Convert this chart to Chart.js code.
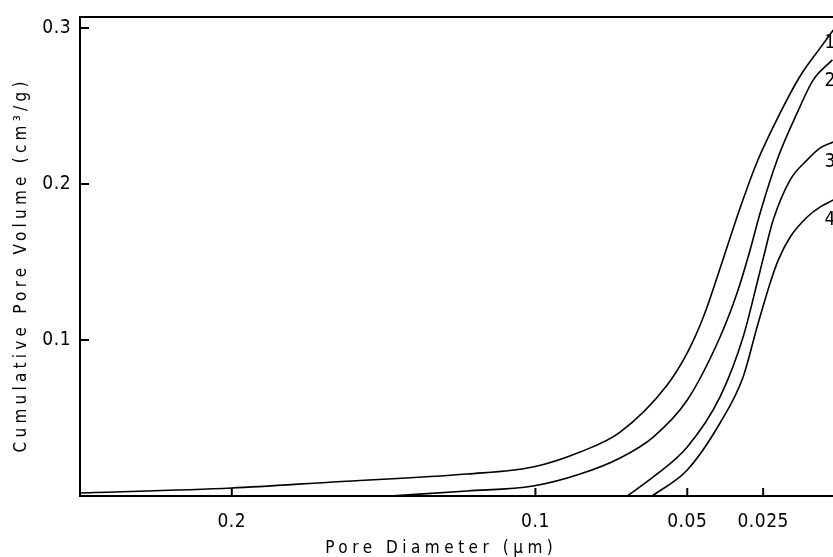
<!DOCTYPE html>
<html>
<head>
<meta charset="utf-8">
<script src="https://cdn.jsdelivr.net/npm/chart.js@4.4.1/dist/chart.umd.min.js"></script>
<style>
  html, body { margin: 0; padding: 0; background: #fff; }
  #wrap { width: 833px; height: 557px; }
</style>
</head>
<body>
<div id="wrap"><canvas id="grporos"></canvas></div>
<script>
// pore diameter (um) / cumulative volume (cm3/g)
const diam1 = [0.2501, 0.2, 0.1667, 0.1225, 0.1008, 0.0853, 0.0721, 0.0566, 0.0500, 0.0447, 0.0385, 0.0326, 0.0270, 0.0194, 0.0128, 0.0062, 0.0019];
const vol1  = [0.0019, 0.0051, 0.0090, 0.0141, 0.0186, 0.0282, 0.0410, 0.0712, 0.0917, 0.1147, 0.1500, 0.1846, 0.2141, 0.2455, 0.2692, 0.2872, 0.2987];

const diam2 = [0.1479, 0.1225, 0.1008, 0.0853, 0.0721, 0.0612, 0.0500, 0.0392, 0.0336, 0.0293, 0.0260, 0.0204, 0.0138, 0.0085, 0.0022];
const vol2  = [0, 0.0032, 0.0064, 0.0141, 0.0244, 0.0378, 0.0615, 0.1019, 0.1301, 0.1577, 0.1814, 0.2154, 0.2455, 0.2667, 0.2795];

const diam3 = [0.0698, 0.0612, 0.0500, 0.0392, 0.0316, 0.0270, 0.0243, 0.0217, 0.0161, 0.0105, 0.0062, 0.0019];
const vol3  = [0, 0.0122, 0.0314, 0.0635, 0.1019, 0.1365, 0.1577, 0.1769, 0.2026, 0.2154, 0.2231, 0.2269];

const diam4 = [0.0616, 0.0500, 0.0392, 0.0316, 0.0270, 0.0227, 0.0200, 0.0161, 0.0105, 0.0062, 0.0019];
const vol4  = [0, 0.0167, 0.0468, 0.0763, 0.1083, 0.1365, 0.1513, 0.1660, 0.1788, 0.1853, 0.1897];

const curveNames = ['1', '2', '3', '4'];
const labelDiam = [0.0048, 0.0048, 0.0048, 0.0048];
const labelVol  = [0.290, 0.266, 0.214, 0.177];

const xTicks = [0.2, 0.1, 0.05, 0.025];
const xTickLabels = ['0.2', '0.1', '0.05', '0.025'];
const yTicks = [0.1, 0.2, 0.3];
const yTickLabels = ['0.1', '0.2', '0.3'];

const xTitle = 'Pore Diameter (μm)';
const yTitle = 'Cumulative Pore Volume (cm³/g)';

const fuente = "'DejaVu Sans Condensed', 'Liberation Sans Narrow', 'DejaVu Sans', sans-serif";

function puntos(xs, ys) {
    return xs.map((x, i) => ({ x: x, y: ys[i] }));
}

const series = [[diam1, vol1], [diam2, vol2], [diam3, vol3], [diam4, vol4]];

// spaced-out axis title, stretched to a given width
function tituloEspaciado(ctx, texto, ancho) {
    ctx.letterSpacing = '0px';
    const w = ctx.measureText(texto).width;
    const esp = (ancho - w) / texto.length;
    ctx.letterSpacing = esp + 'px';
    ctx.fillText(texto, esp / 2, 0);
}

// inward ticks, top frame, axis titles and curve numbers
const extras = {
    id: 'extras',
    beforeDraw(chart) {
        chart.ctx.letterSpacing = '0.5px';
    },
    afterDraw(chart) {
        const ctx = chart.ctx;
        const area = chart.chartArea;
        const sx = chart.scales.x;
        const sy = chart.scales.y;
        ctx.save();
        ctx.strokeStyle = '#000';
        ctx.lineWidth = 2;
        ctx.beginPath();
        ctx.moveTo(area.left - 1, area.top);
        ctx.lineTo(area.right, area.top);
        xTicks.forEach(v => {
            const px = sx.getPixelForValue(v);
            ctx.moveTo(px, area.bottom);
            ctx.lineTo(px, area.bottom - 8);
        });
        yTicks.forEach(v => {
            const py = sy.getPixelForValue(v);
            ctx.moveTo(area.left, py);
            ctx.lineTo(area.left + 9, py);
        });
        ctx.stroke();

        ctx.fillStyle = '#000';
        ctx.font = '17px ' + fuente;
        ctx.textAlign = 'center';
        ctx.textBaseline = 'middle';
        ctx.save();
        ctx.translate(439, 549);
        tituloEspaciado(ctx, xTitle, 232);
        ctx.restore();
        ctx.save();
        ctx.translate(22, 267);
        ctx.rotate(-Math.PI / 2);
        tituloEspaciado(ctx, yTitle, 375);
        ctx.restore();

        ctx.letterSpacing = '0px';
        ctx.font = '19px ' + fuente;
        ctx.textAlign = 'left';
        curveNames.forEach((n, i) => {
            ctx.fillText(n, sx.getPixelForValue(labelDiam[i]), sy.getPixelForValue(labelVol[i]));
        });
        ctx.restore();
    }
};

new Chart(document.getElementById('grporos'), {
    type: 'scatter',
    data: {
        datasets: series.map((s, i) => ({
            label: curveNames[i],
            data: puntos(s[0], s[1]),
            showLine: true,
            borderColor: '#000',
            borderWidth: 1.6,
            pointRadius: 0,
            cubicInterpolationMode: 'monotone',
            fill: false
        }))
    },
    options: {
        responsive: true,
        maintainAspectRatio: false,
        animation: false,
        layout: { padding: { top: 17, right: 0, left: 0, bottom: 0 } },
        plugins: {
            legend: { display: false },
            tooltip: { enabled: false }
        },
        scales: {
            x: {
                type: 'linear',
                reverse: true,
                min: 0.002,
                max: 0.25,
                afterBuildTicks: s => { s.ticks = xTicks.map(v => ({ value: v })); },
                afterFit: s => { s.height = 61; },
                grid: { display: false },
                border: { display: true, color: '#000', width: 2 },
                ticks: {
                    color: '#000',
                    padding: 7,
                    maxRotation: 0,
                    autoSkip: false,
                    font: { family: fuente, size: 19 },
                    callback: v => xTickLabels[xTicks.indexOf(v)]
                }
            },
            y: {
                min: 0,
                max: 0.307,
                afterBuildTicks: s => { s.ticks = yTicks.map(v => ({ value: v })); },
                afterFit: s => { s.width = 80; },
                grid: { display: false },
                border: { display: true, color: '#000', width: 2 },
                ticks: {
                    color: '#000',
                    padding: 1,
                    font: { family: fuente, size: 19 },
                    callback: v => yTickLabels[yTicks.indexOf(v)]
                }
            }
        }
    },
    plugins: [extras]
});
</script>
</body>
</html>
